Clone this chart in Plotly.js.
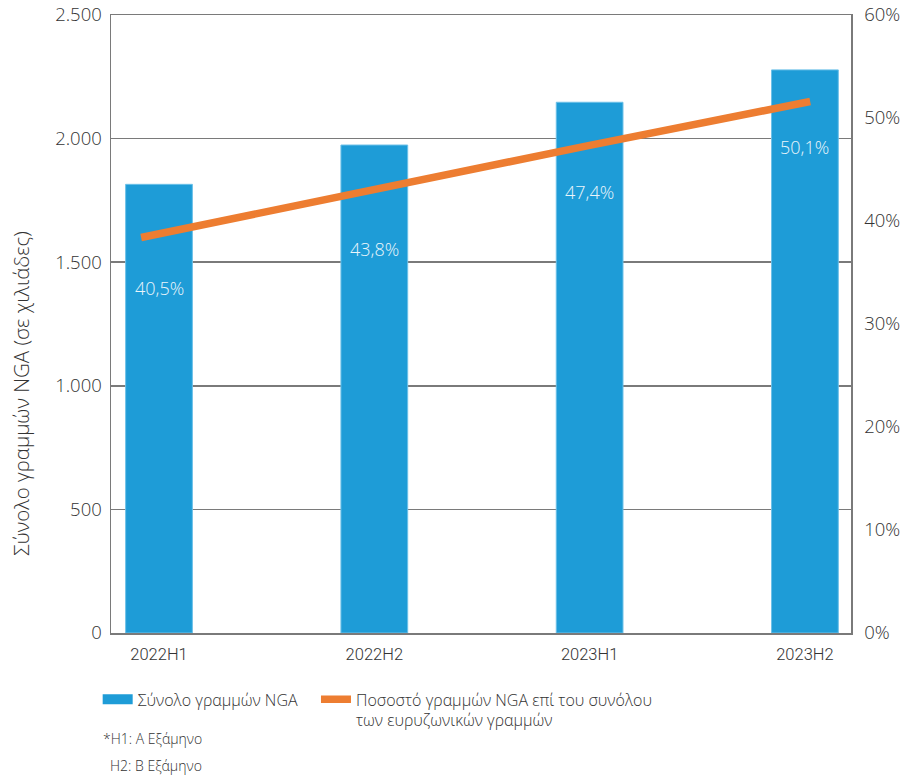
<!DOCTYPE html>
<html>
<head>
<meta charset="utf-8">
<script src="https://cdn.plot.ly/plotly-3.0.1.min.js"></script>
<style>html,body{margin:0;padding:0;background:#fff;}#chart{width:914px;height:779px;}</style>
</head>
<body>
<div id="chart"></div>
<script>
// Data
const periods = ['2022H1', '2022H2', '2023H1', '2023H2'];
const totalNGA = [1815, 1974, 2147, 2278];            // thousands of lines (left axis)
const shareLine = [38.4, 42.9, 47.3, 51.6];            // line as drawn on right axis (%)
const shareLabels = [40.5, 43.8, 47.4, 50.1];          // printed percentage labels
const labelLevel = [1395, 1555, 1782, 1965];           // label heights on left axis
const barName = 'Σύνολο γραμμών NGA';
const lineName = 'Ποσοστό γραμμών NGA επί του συνόλου<br>των ευρυζωνικών γραμμών';
const yTitle = 'Σύνολο γραμμών NGA (σε χιλιάδες)';
const footnote = ['*H1: A Εξάμηνο', 'H2: B Εξάμηνο'];

const BLUE = '#1e9cd7';
const ORANGE = '#ed7d31';
const GRID = '#7a7a7a';
const FONT = 'Roboto, "Open Sans", sans-serif';
const GREEK = '"Open Sans", "Noto Sans", sans-serif';

const traces = [
  {
    type: 'bar', x: periods, y: totalNGA, name: barName,
    marker: {color: BLUE, line: {color: '#6cc0e8', width: 1}},
    width: 0.31, showlegend: false, legendgroup: 'bars', hoverinfo: 'x+y'
  },
  {
    type: 'scatter', mode: 'lines', x: [null], y: [null], name: barName,
    line: {color: BLUE, width: 11}, legendgroup: 'bars', showlegend: true,
    legend: 'legend'
  },
  {
    type: 'scatter', mode: 'lines', x: periods, y: shareLine, name: lineName,
    xaxis: 'x2', yaxis: 'y2',
    line: {color: ORANGE, width: 7.5, shape: 'linear'}, showlegend: true,
    legend: 'legend2'
  }
];

const annotations = periods.map((p, i) => ({
  x: p, y: labelLevel[i], xref: 'x', yref: 'y',
  text: shareLabels[i].toFixed(1).replace('.', ',') + '%',
  showarrow: false, font: {family: GREEK, size: 18, color: '#eaf5fb', weight: 300},
  xanchor: 'center', yanchor: 'middle'
}));
annotations.push({
  xref: 'paper', yref: 'paper', x: -0.121, y: 0.388, xanchor: 'center', yanchor: 'middle',
  text: yTitle, textangle: -90, showarrow: false,
  font: {family: GREEK, size: 20.5, color: '#333', weight: 300}
});
annotations.push({
  xref: 'paper', yref: 'paper', x: -0.013, y: -0.17, xanchor: 'left', yanchor: 'middle',
  text: footnote[0], showarrow: false, font: {family: GREEK, size: 14, color: '#333', weight: 300}
});
annotations.push({
  xref: 'paper', yref: 'paper', x: -0.004, y: -0.215, xanchor: 'left', yanchor: 'middle',
  text: footnote[1], showarrow: false, font: {family: GREEK, size: 14, color: '#333', weight: 300}
});

const legendFont = {family: GREEK, size: 16, color: '#333', weight: 300};

const layout = {
  width: 914, height: 779,
  margin: {l: 111, r: 63, t: 15, b: 146},
  paper_bgcolor: '#fff', plot_bgcolor: '#fff',
  font: {family: FONT, color: '#333'},
  showlegend: true,
  legend: {
    orientation: 'h', x: -0.018, y: -0.080, xanchor: 'left', yanchor: 'top',
    itemwidth: 30, font: legendFont, valign: 'top', bgcolor: 'rgba(0,0,0,0)'
  },
  legend2: {
    orientation: 'h', x: 0.277, y: -0.080, xanchor: 'left', yanchor: 'top',
    itemwidth: 30, font: legendFont, valign: 'top', bgcolor: 'rgba(0,0,0,0)'
  },
  xaxis: {
    type: 'category', range: [-0.223, 3.214], showgrid: false,
    showline: true, linecolor: GRID, linewidth: 1.5, mirror: true,
    ticks: '', tickfont: {family: FONT, size: 16.5, color: '#333', weight: 300},
    ticklabelstandoff: 6
  },
  xaxis2: {
    type: 'category', overlaying: 'x', range: [-0.135, 3.183],
    visible: false
  },
  yaxis: {
    range: [0, 2500], dtick: 500, tickformat: ',d',
    showgrid: true, gridcolor: GRID, gridwidth: 1.5,
    showline: true, linecolor: GRID, linewidth: 1.5,
    zeroline: false, ticks: '',
    tickfont: {family: GREEK, size: 18.5, color: '#333', weight: 300},
    ticklabelstandoff: 4
  },
  yaxis2: {
    overlaying: 'y', side: 'right', range: [0, 60], dtick: 10, ticksuffix: '%',
    showgrid: false, showline: true, linecolor: GRID, linewidth: 1.5,
    zeroline: false, ticks: '',
    tickfont: {family: GREEK, size: 18.5, color: '#333', weight: 300},
    ticklabelstandoff: 8
  },
  separators: ',.',
  annotations: annotations
};

Plotly.newPlot('chart', traces, layout, {displayModeBar: false, staticPlot: true});
</script>
</body>
</html>
